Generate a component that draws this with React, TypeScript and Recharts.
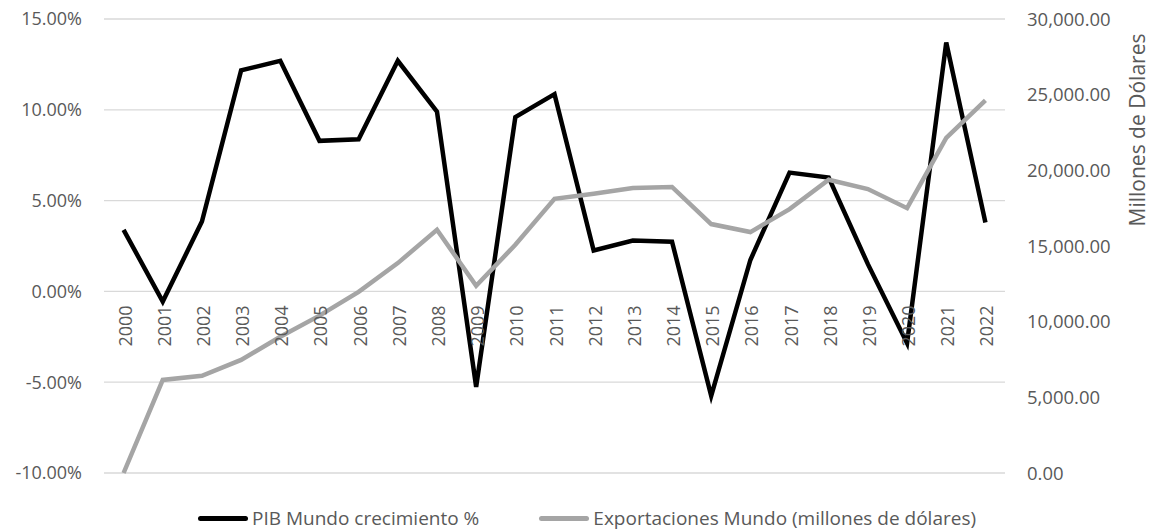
import React from "react";
import {
  LineChart,
  Line,
  XAxis,
  YAxis,
  CartesianGrid
} from "recharts";

// DATA
const years = [
  "2000", "2001", "2002", "2003", "2004", "2005", "2006", "2007",
  "2008", "2009", "2010", "2011", "2012", "2013", "2014", "2015",
  "2016", "2017", "2018", "2019", "2020", "2021", "2022"
];

const pibCrecimiento = [
  3.39, -0.56, 3.85, 12.17, 12.7, 8.29, 8.38, 12.7,
  9.9, -5.26, 9.6, 10.86, 2.25, 2.8, 2.74, -5.75,
  1.73, 6.54, 6.27, 1.5, -2.85, 13.71, 3.79
];

const exportaciones = [
  0, 6150, 6420, 7470, 9000, 10400, 11970, 13870,
  16070, 12370, 15080, 18120, 18450, 18830, 18900, 16450,
  15920, 17440, 19380, 18760, 17500, 22140, 24620
];

const leftTicks = [-10, -5, 0, 5, 10, 15];
const rightTicks = [0, 5000, 10000, 15000, 20000, 25000, 30000];

const seriesNames = [
  "PIB Mundo crecimiento %",
  "Exportaciones Mundo (millones de dólares)"
];

const data = years.map((year, i) => ({
  year,
  pib: pibCrecimiento[i],
  exp: exportaciones[i]
}));

const FONT = "'Open Sans', 'Liberation Sans', sans-serif";
const TEXT = "#595959";

const W = 1152;
const H = 530;
const TOP = 19;
const BOTTOM = 56;
const PLOT_H = H - TOP - BOTTOM - 1;
const ZERO_Y = TOP + PLOT_H * (15 / 25);
const HALF_BAND = 901 / 23 / 2;

function YearTick(props: any) {
  const { x, payload } = props;
  return (
    <text
      transform={`translate(${x + 8}, ${ZERO_Y + 14}) rotate(-90)`}
      textAnchor="end"
      fill={TEXT}
      fontSize={18}
      fontFamily={FONT}
    >
      {payload.value}
    </text>
  );
}

function RightTitle() {
  return (
    <text
      transform={`translate(1137, 130) rotate(-90)`}
      textAnchor="middle"
      dominantBaseline="central"
      fill={TEXT}
      fontSize={21}
      fontFamily={FONT}
    >
      Millones de Dólares
    </text>
  );
}

export default function App() {
  return (
    <div style={{ position: "absolute", left: 0, top: 0, width: W, height: H, background: "#fff", overflow: "hidden" }}>

      <LineChart
        width={W}
        height={H}
        data={data}
        margin={{ top: TOP, right: 0, bottom: BOTTOM, left: 0 }}
      >

        <CartesianGrid
          yAxisId="left"
          vertical={false}
          stroke="#D9D9D9"
          strokeWidth={1.3}
        />

        <XAxis
          dataKey="year"
          interval={0}
          axisLine={false}
          tickLine={false}
          height={1}
          padding={{ left: HALF_BAND, right: HALF_BAND }}
          tick={(p: any) => <YearTick {...p} />}
        />

        <YAxis
          yAxisId="left"
          orientation="left"
          width={104}
          domain={[-10, 15]}
          ticks={leftTicks}
          axisLine={false}
          tickLine={false}
          tickSize={0}
          tickMargin={22}
          tick={{ fill: TEXT, fontSize: 18, fontFamily: FONT }}
          tickFormatter={(v: number) => `${v.toFixed(2)}%`}
        />

        <YAxis
          yAxisId="right"
          orientation="right"
          width={147}
          domain={[0, 30000]}
          ticks={rightTicks}
          axisLine={false}
          tickLine={false}
          tickSize={0}
          tickMargin={22}
          tick={{ fill: TEXT, fontSize: 18.5, fontFamily: FONT }}
          tickFormatter={(v: number) =>
            v.toLocaleString("en-US", { minimumFractionDigits: 2, maximumFractionDigits: 2 })
          }
          label={{ content: () => <RightTitle /> }}
        />

        <Line
          yAxisId="left"
          dataKey="pib"
          name={seriesNames[0]}
          stroke="#000000"
          strokeWidth={4.5}
          dot={false}
          isAnimationActive={false}
          strokeLinejoin="miter"
        />

        <Line
          yAxisId="right"
          dataKey="exp"
          name={seriesNames[1]}
          stroke="#A5A5A5"
          strokeWidth={4.5}
          dot={false}
          isAnimationActive={false}
        />

      </LineChart>

      {/* LEGEND */}
      <div
        style={{
          position: "absolute",
          left: 198,
          top: 507,
          height: 22,
          lineHeight: "22px",
          display: "flex",
          alignItems: "center",
          fontFamily: FONT,
          fontSize: 19,
          color: TEXT,
          whiteSpace: "nowrap"
        }}
      >
        <span style={{ display: "inline-block", width: 50, height: 5, borderRadius: 2.5, background: "#000", marginRight: 4 }} />
        <span>{seriesNames[0]}</span>
        <span style={{ display: "inline-block", width: 50, height: 5, borderRadius: 2.5, background: "#A5A5A5", marginLeft: 60, marginRight: 4 }} />
        <span>{seriesNames[1]}</span>
      </div>

    </div>
  );
}
